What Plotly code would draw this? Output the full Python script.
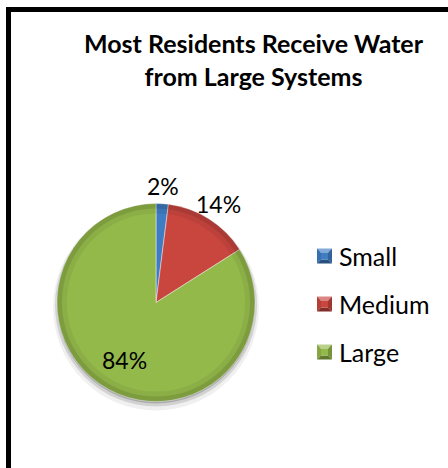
import math
import plotly.graph_objects as go

# Share of residents by water-system size
categories = ["Small", "Medium", "Large"]
shares = [2, 14, 84]
colors = ["#3F7CC2", "#C9463F", "#94B94B"]
label_inside = [False, False, True]

W, H = 448, 468
FONT = "Lato, 'Liberation Sans', sans-serif"


def fx(x):
    return x / W


def fy(y):
    return 1 - y / H


def shade(hex_col, f):
    r, g, b = (int(hex_col[i:i + 2], 16) for i in (1, 3, 5))
    if f >= 0:
        r, g, b = (int(c + (255 - c) * f) for c in (r, g, b))
    else:
        r, g, b = (int(c * (1 + f)) for c in (r, g, b))
    return f"rgb({r},{g},{b})"


# pie box in pixels
pie_left, pie_right, pie_top, pie_bottom = 57, 255, 203, 402
cx, cy = (pie_left + pie_right) / 2, (pie_top + pie_bottom) / 2
radius = (pie_right - pie_left) / 2
dom_x = [fx(pie_left), fx(pie_right)]
dom_y = [fy(pie_bottom), fy(pie_top)]

fig = go.Figure()

# soft drop shadow beneath the pie
for grow, drop, alpha in [(4, 5, 0.06), (2, 3, 0.12), (0, 2, 0.18)]:
    fig.add_trace(go.Pie(
        values=[sum(shares)], marker=dict(colors=[f"rgba(0,0,0,{alpha})"]),
        domain=dict(x=[fx(pie_left - grow), fx(pie_right + grow)],
                    y=[fy(pie_bottom + grow + drop), fy(pie_top - grow + drop)]),
        textinfo="none", hoverinfo="skip", showlegend=False, sort=False,
    ))

fig.add_trace(go.Pie(
    labels=categories, values=shares, sort=False, direction="clockwise",
    rotation=0, domain=dict(x=dom_x, y=dom_y),
    marker=dict(colors=colors, line=dict(color="rgba(255,255,255,0.45)", width=1)),
    textinfo="none", showlegend=False, hoverinfo="label+percent",
))

# darker bevel rim around the edge
for hole, alpha in [(0.90, 0.06), (0.95, 0.10)]:
    fig.add_trace(go.Pie(
        values=[sum(shares)], hole=hole,
        marker=dict(colors=[f"rgba(0,0,0,{alpha})"]),
        domain=dict(x=dom_x, y=dom_y),
        textinfo="none", hoverinfo="skip", showlegend=False, sort=False,
    ))

annotations = [dict(
    text="<b>Most Residents Receive Water<br>from Large Systems</b>",
    x=fx(254), y=fy(60), xref="paper", yref="paper",
    xanchor="center", yanchor="middle", showarrow=False,
    font=dict(family=FONT, size=25, color="#000000"),
)]

# percentage labels placed at each slice's mid-angle
total = sum(shares)
start = 0.0
for val, inside in zip(shares, label_inside):
    mid = (start + val / 2) / total * 2 * math.pi
    start += val
    dist = radius * (0.66 if inside else 1.18)
    annotations.append(dict(
        text=f"{round(100 * val / total)}%",
        x=fx(cx + dist * math.sin(mid)), y=fy(cy - dist * math.cos(mid)),
        xref="paper", yref="paper", xanchor="center", yanchor="middle",
        showarrow=False, font=dict(family=FONT, size=23, color="#000000"),
    ))

# legend drawn as bevelled key squares plus labels
shapes = []
legend_x, key_size, first_y, step = 317, 15, 256, 48
for i, (name, col) in enumerate(zip(categories, colors)):
    ky = first_y + i * step
    x0, x1 = legend_x, legend_x + key_size
    y0, y1 = ky - key_size / 2, ky + key_size / 2
    inset = 4
    faces = [
        ([(x0, y0), (x1, y0), (x1 - inset, y0 + inset), (x0 + inset, y0 + inset)], 0.35),
        ([(x0, y1), (x1, y1), (x1 - inset, y1 - inset), (x0 + inset, y1 - inset)], -0.35),
        ([(x0, y0), (x0, y1), (x0 + inset, y1 - inset), (x0 + inset, y0 + inset)], -0.1),
        ([(x1, y0), (x1, y1), (x1 - inset, y1 - inset), (x1 - inset, y0 + inset)], -0.2),
        ([(x0 + inset, y0 + inset), (x1 - inset, y0 + inset),
          (x1 - inset, y1 - inset), (x0 + inset, y1 - inset)], 0.0),
    ]
    for pts, f in faces:
        path = "M " + " L ".join(f"{fx(px)},{fy(py)}" for px, py in pts) + " Z"
        shapes.append(dict(type="path", xref="paper", yref="paper", path=path,
                           fillcolor=shade(col, f), line=dict(width=0)))
    annotations.append(dict(
        text=name, x=fx(x1 + 5), y=fy(ky),
        xref="paper", yref="paper", xanchor="left", yanchor="middle",
        showarrow=False, font=dict(family=FONT, size=25, color="#000000"),
    ))

# chart frame: thick top and left edges
shapes.append(dict(
    type="path", xref="paper", yref="paper",
    path=f"M {fx(8.5)},{fy(H + 5)} L {fx(8.5)},{fy(9.5)} L {fx(W + 5)},{fy(9.5)}",
    line=dict(color="#000000", width=5),
))

fig.update_layout(
    width=W, height=H, margin=dict(l=0, r=0, t=0, b=0),
    paper_bgcolor="#FFFFFF", plot_bgcolor="#FFFFFF",
    annotations=annotations, shapes=shapes, showlegend=False,
)

fig.write_html("out.html")
